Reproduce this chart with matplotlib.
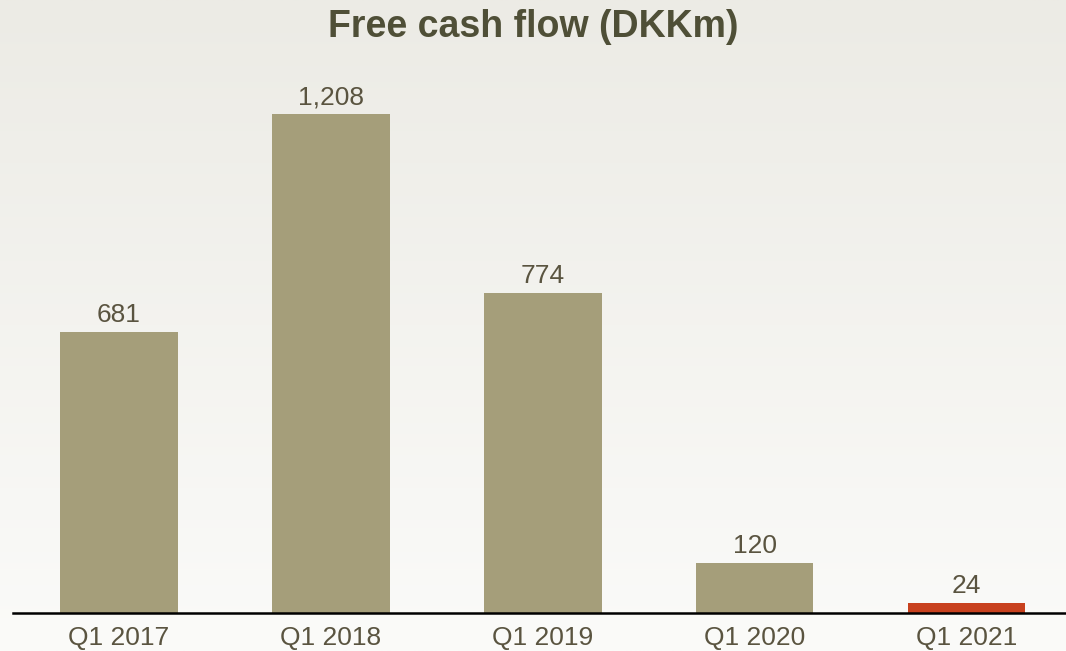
import numpy as np
import matplotlib.pyplot as plt

plt.rcParams['font.family'] = ['Liberation Sans', 'DejaVu Sans']

# chart data
quarters = ['Q1 2017', 'Q1 2018', 'Q1 2019', 'Q1 2020', 'Q1 2021']
fcf = [681, 1208, 774, 120, 24]
bar_colors = ['#A59E7A', '#A59E7A', '#A59E7A', '#A59E7A', '#C8411E']

fig = plt.figure(figsize=(10.66, 6.51), dpi=100)

# background gradient (light grey at top, almost white at bottom)
bg = fig.add_axes([0, 0, 1, 1], zorder=0)
top = np.array([236, 235, 229]) / 255.0
bot = np.array([251, 251, 249]) / 255.0
t = np.linspace(0, 1, 256)[:, None, None]
grad = top * (1 - t) + bot * t
bg.imshow(np.repeat(grad, 2, axis=1), aspect='auto', extent=[0, 1, 0, 1])
bg.axis('off')

ax = fig.add_axes([13 / 1066, 38 / 651, 1 - 13 / 1066, 537 / 651], zorder=1)
ax.patch.set_alpha(0)

x = np.arange(len(quarters))
bars = ax.bar(x, fcf, width=0.556, color=bar_colors)
for xi, v in zip(x, fcf):
    ax.text(xi, v + 12, f'{v:,}', ha='center', va='bottom',
            fontsize=19, color='#5A5440')

ax.set_xlim(-0.5, 4.47)
ax.set_ylim(0, 1300)
ax.set_xticks(x)
ax.set_xticklabels(quarters, fontsize=19, color='#5A5440')
ax.tick_params(axis='x', length=0, pad=9)
ax.set_yticks([])
for s in ['top', 'right', 'left']:
    ax.spines[s].set_visible(False)
ax.spines['bottom'].set_linewidth(1.8)
ax.spines['bottom'].set_color('black')

fig.text(0.5, 0.958, 'Free cash flow (DKKm)', ha='center', va='center',
         fontsize=27, fontweight='bold', color='#4F4F37')

fig.savefig('out.png', dpi=100)
